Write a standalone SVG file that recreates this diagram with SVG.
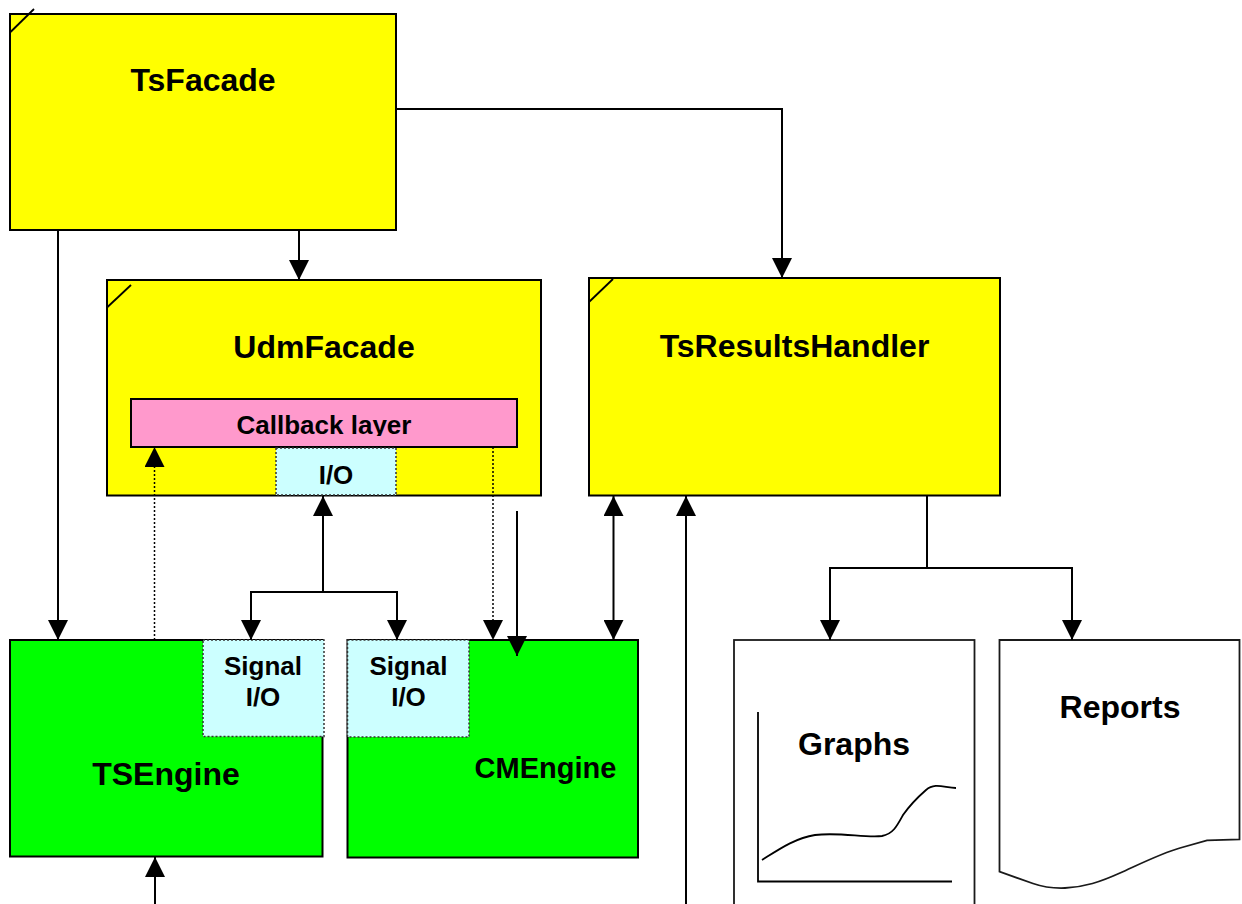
<svg xmlns="http://www.w3.org/2000/svg" width="1242" height="904" viewBox="0 0 1242 904">
  <style>
    .lbl { font-family: "Liberation Sans", Arial, sans-serif; font-weight: bold; fill: #000; text-anchor: middle; }
    .big { font-size: 32px; }
    .mid { font-size: 26px; }
    .yellow { fill: #FFFF00; stroke: #000; stroke-width: 2; }
    .green { fill: #00FF00; stroke: #000; stroke-width: 2; }
    .pink { fill: #FF99CC; stroke: #000; stroke-width: 2; }
    .port { fill: #CCFFFF; stroke: #333; stroke-width: 1.5; stroke-dasharray: 2 2; }
    .doc { fill: #fff; stroke: #1a1a1a; stroke-width: 1.8; }
    .corner { stroke: #000; stroke-width: 1.8; fill: none; }
    .wire { fill: none; stroke: #000; stroke-width: 2; }
    .dot { fill: none; stroke: #000; stroke-width: 1.5; stroke-dasharray: 2 2; }
    .arr { marker-end: url(#head); }
  </style>
  <defs>
    <marker id="head" markerUnits="userSpaceOnUse" markerWidth="20" markerHeight="20" refX="20" refY="10" orient="auto-start-reverse" viewBox="0 0 20 20">
      <path d="M0,0 L20,10 L0,20 Z" fill="#000"/>
    </marker>
    <clipPath id="cbClip">
      <rect x="130" y="399" width="388" height="37"/>
    </clipPath>
  </defs>

  <rect width="1242" height="904" fill="#fff"/>

  <!-- TsFacade -->
  <g id="TsFacade">
    <rect class="yellow" x="10" y="14" width="386" height="216"/>
    <line class="corner" x1="10" y1="32.5" x2="34" y2="9"/>
    <text class="lbl big" x="203" y="91">TsFacade</text>
  </g>

  <!-- UdmFacade with callback layer and I/O port -->
  <g id="UdmFacade">
    <rect class="yellow" x="107" y="280" width="434" height="215.5"/>
    <line class="corner" x1="107" y1="307.5" x2="131" y2="285"/>
    <text class="lbl big" x="324" y="358">UdmFacade</text>
  </g>
  <g id="CallbackLayer">
    <rect class="pink" x="131" y="399" width="386" height="48"/>
    <text class="lbl mid" x="324" y="434" clip-path="url(#cbClip)">Callback layer</text>
  </g>
  <g id="UdmIO">
    <rect class="port" x="276" y="448" width="120" height="47"/>
    <text class="lbl mid" x="336" y="484">I/O</text>
  </g>

  <!-- TsResultsHandler -->
  <g id="TsResultsHandler">
    <rect class="yellow" x="589" y="278" width="411" height="217.5"/>
    <line class="corner" x1="589" y1="302" x2="613" y2="279"/>
    <text class="lbl big" x="794.5" y="357">TsResultsHandler</text>
  </g>

  <!-- TSEngine -->
  <g id="TSEngine">
    <rect class="green" x="10" y="640" width="312.5" height="216.5"/>
    <text class="lbl big" x="166" y="785">TSEngine</text>
  </g>
  <g id="TSEngineSignalIO">
    <rect class="port" x="203" y="640" width="121" height="96.5"/>
    <text class="lbl mid" x="263" y="675">Signal</text>
    <text class="lbl mid" x="263" y="706">I/O</text>
  </g>

  <!-- CMEngine -->
  <g id="CMEngine">
    <rect class="green" x="347.5" y="640" width="290.5" height="217.5"/>
    <text class="lbl" style="font-size:29px" x="545.5" y="778">CMEngine</text>
  </g>
  <g id="CMEngineSignalIO">
    <rect class="port" x="347.5" y="640" width="121.5" height="97"/>
    <text class="lbl mid" x="408.5" y="675">Signal</text>
    <text class="lbl mid" x="408.5" y="706">I/O</text>
  </g>

  <!-- Graphs document -->
  <g id="Graphs">
    <rect class="doc" x="734" y="640" width="240.5" height="280"/>
    <path fill="none" stroke="#000" stroke-width="1.8" d="M758,712 V881.5 H952"/>
    <path fill="none" stroke="#000" stroke-width="1.8" d="M762,860 C778,850 795,838 815,835 C840,832 865,838 882,836 C893,834 897,826 903,815 C910,805 918,797 926,790 C935,782 945,788 956,788"/>
    <text class="lbl big" x="854" y="755">Graphs</text>
  </g>

  <!-- Reports document -->
  <g id="Reports">
    <path class="doc" d="M999.5,640 H1239.5 V839.3 L1207,840.3 L1180,848 C1162,853 1140,864 1120,873 C1100,882 1085,887 1065,888 C1052,888.5 1043,887 1033,883.5 L999.5,871.7 Z"/>
    <text class="lbl big" x="1120" y="718">Reports</text>
  </g>

  <!-- connectors, drawn over the boxes -->
  <g id="connectors">
    <path class="wire arr" d="M396,109 H782 V278"/>
    <path class="wire arr" d="M299,230 V280"/>
    <path class="wire arr" d="M58,230 V640"/>
    <path class="wire arr" d="M323,592 V496"/>
    <path class="wire arr" d="M323,592 H251 V640"/>
    <path class="wire arr" d="M323,592 H397 V640"/>
    <path class="dot arr" d="M154.5,640 V447"/>
    <path class="dot arr" d="M493,447 V640"/>
    <path class="wire arr" d="M517,511 V656"/>
    <path class="wire arr" d="M613.5,640 V496" style="marker-start:url(#head)"/>
    <path class="wire arr" d="M686,904 V496"/>
    <path class="wire arr" d="M155,904 V857"/>
    <path class="wire arr" d="M927,496 V568 H830 V640"/>
    <path class="wire arr" d="M927,568 H1072 V640"/>
  </g>
</svg>
